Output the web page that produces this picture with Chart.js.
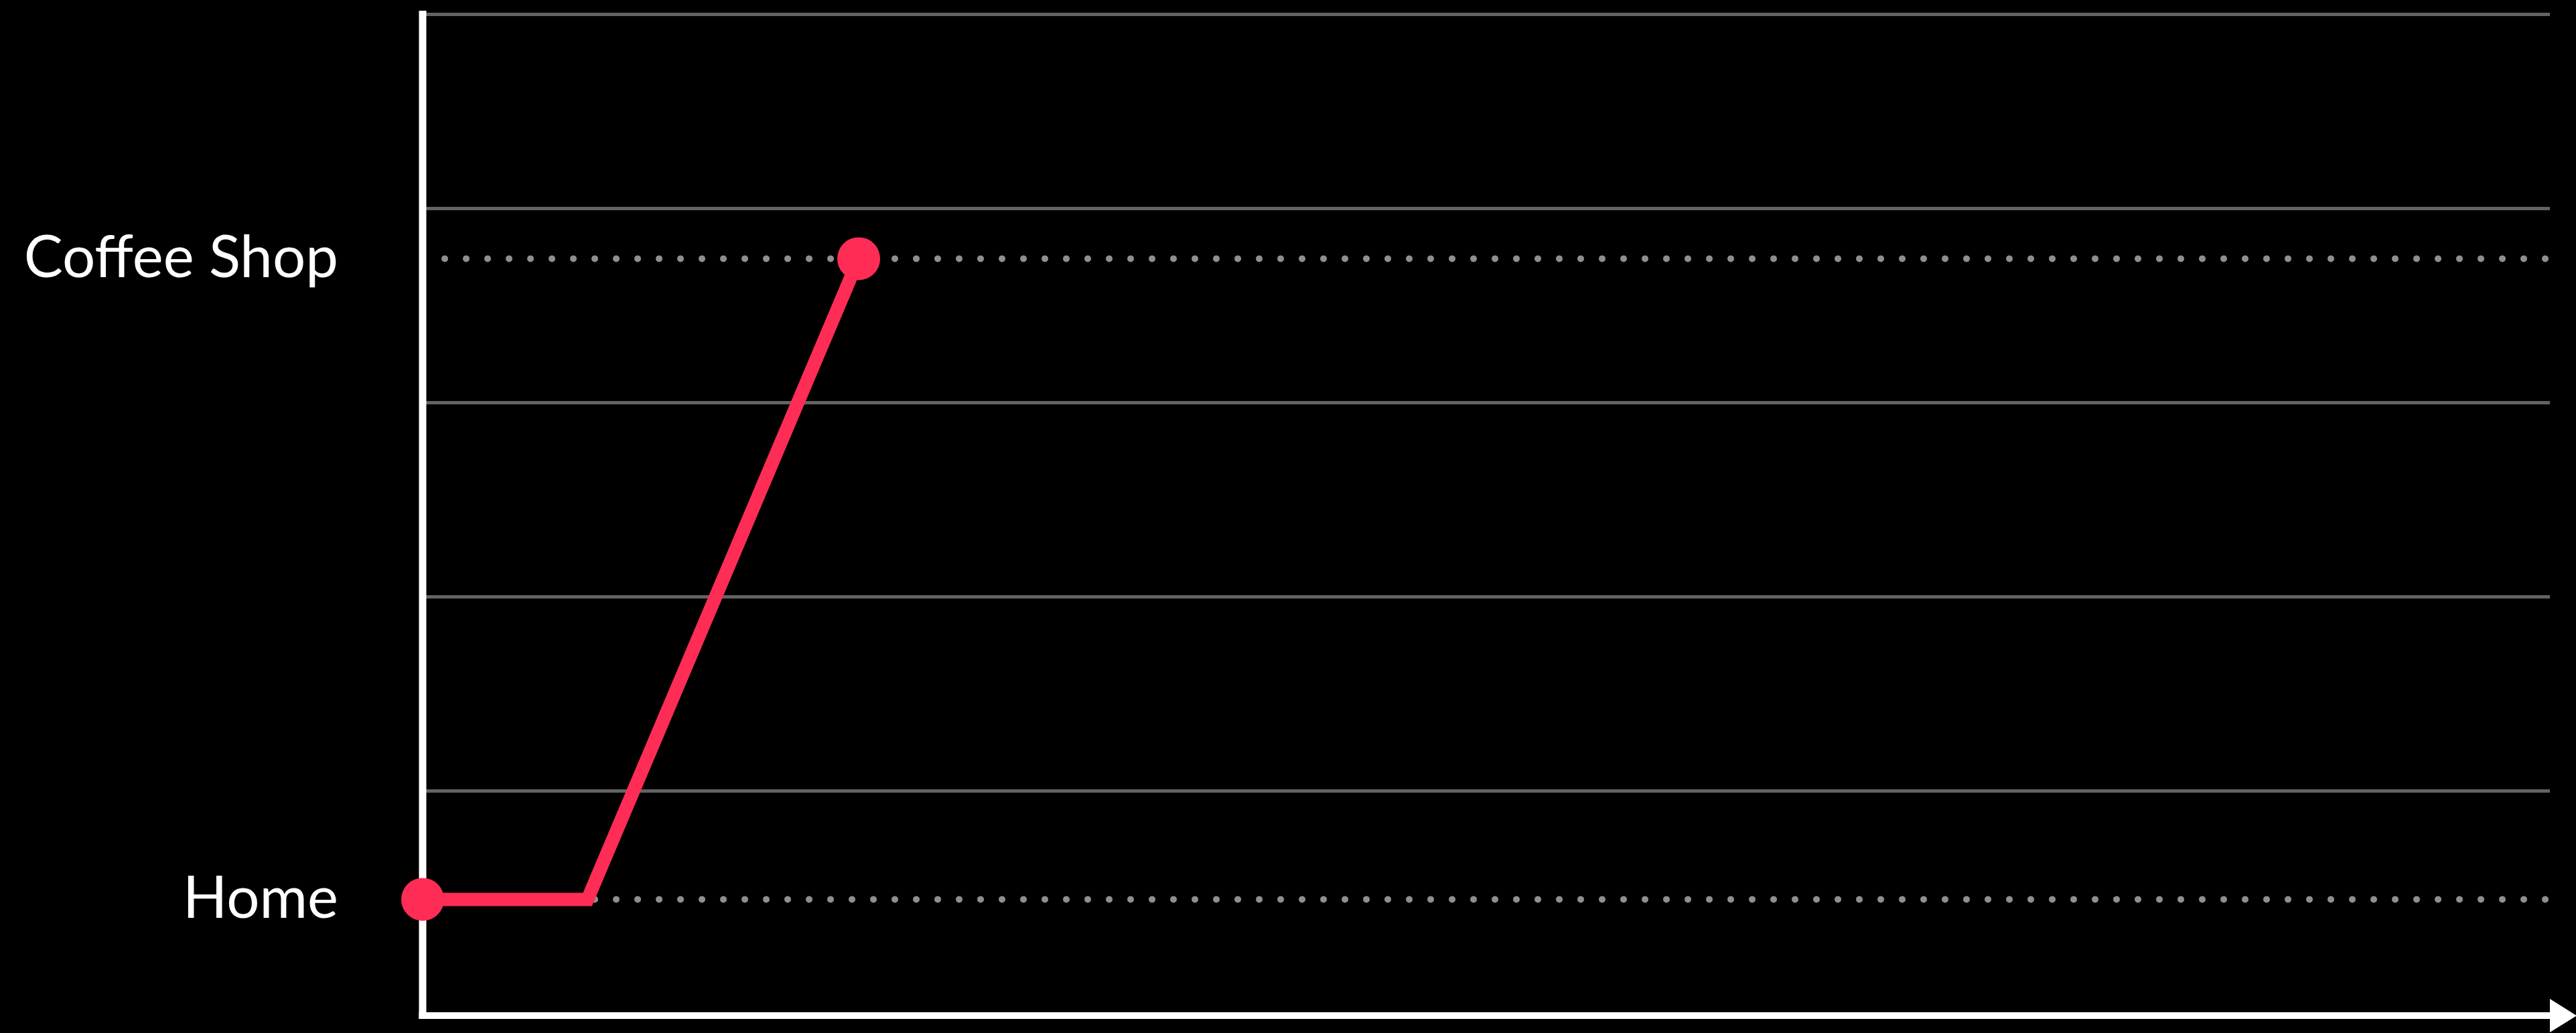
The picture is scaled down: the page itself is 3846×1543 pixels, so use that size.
<!DOCTYPE html>
<html>
<head>
<meta charset="utf-8">
<script src="https://cdn.jsdelivr.net/npm/chart.js@4"></script>
<style>
  html, body { margin: 0; padding: 0; background: #000; }
  #wrap { width: 3846px; height: 1543px; }
</style>
</head>
<body>
<div id="wrap"><canvas id="chart"></canvas></div>
<script>
// places on the vertical axis and the level each one sits at
const places = ['Home', 'Coffee Shop'];
const placeLevels = [0.44, 3.74];
// solid grey grid levels
const gridLevels = [1, 2, 3, 4, 5];
// the trip: time on x, stop on y
const tripTimes = [0, 7.75, 20.5];
const tripStops = ['Home', 'Home', 'Coffee Shop'];
// dotted guide lines run across the whole span
const guideTimes = [1.04, 100];

const levelOf = name => placeLevels[places.indexOf(name)];

// white L-shaped axes with an arrow, drawn under the data
const axesPlugin = {
    id: 'axes',
    beforeDatasetsDraw(chart) {
        const { ctx, chartArea: a } = chart;
        ctx.save();
        ctx.strokeStyle = '#fff';
        ctx.fillStyle = '#fff';
        ctx.lineWidth = 11;
        ctx.beginPath();
        ctx.moveTo(a.left, a.top - 5);
        ctx.lineTo(a.left, a.bottom + 5);
        ctx.stroke();
        ctx.lineWidth = 10;
        ctx.beginPath();
        ctx.moveTo(a.left - 5.5, a.bottom);
        ctx.lineTo(a.right + 1, a.bottom);
        ctx.stroke();
        ctx.beginPath();
        ctx.moveTo(a.right, a.bottom - 25);
        ctx.lineTo(a.right + 40, a.bottom);
        ctx.lineTo(a.right, a.bottom + 25);
        ctx.closePath();
        ctx.fill();
        ctx.restore();
    }
};

const datasets = [
    {
        data: tripTimes.map((t, i) => ({ x: t, y: levelOf(tripStops[i]) })),
        borderColor: '#ff2d55',
        backgroundColor: '#ff2d55',
        borderWidth: 20,
        borderJoinStyle: 'miter',
        pointRadius: tripTimes.map((t, i) => (i === 0 || i === tripTimes.length - 1) ? 32 : 0),
        pointBackgroundColor: '#ff2d55',
        pointBorderWidth: 0,
        tension: 0,
        clip: false,
        order: 0
    }
];

places.forEach(name => {
    datasets.push({
        data: guideTimes.map(t => ({ x: t, y: levelOf(name) })),
        borderColor: '#8e8e93',
        borderWidth: 10,
        borderDash: [0, 32],
        borderCapStyle: 'round',
        pointRadius: 0,
        clip: false,
        order: 1
    });
});

const allTicks = [...gridLevels, ...placeLevels].sort((a, b) => a - b);

new Chart(document.getElementById('chart'), {
    type: 'line',
    data: { datasets },
    plugins: [axesPlugin],
    options: {
        responsive: true,
        maintainAspectRatio: false,
        animation: false,
        events: [],
        layout: {
            autoPadding: false,
            padding: { top: 21, right: 39, bottom: 26, left: 0 }
        },
        plugins: {
            legend: { display: false },
            tooltip: { enabled: false }
        },
        scales: {
            x: {
                type: 'linear',
                min: 0,
                max: 100,
                display: false
            },
            y: {
                type: 'linear',
                min: -0.1586,
                max: 5,
                afterBuildTicks(scale) {
                    scale.ticks = allTicks.map(v => ({ value: v }));
                },
                afterFit(scale) {
                    scale.width = 631;
                    scale.paddingTop = 0;
                    scale.paddingBottom = 0;
                },
                border: { display: false },
                grid: {
                    drawTicks: false,
                    lineWidth: 5,
                    color: ctx => (ctx.tick && gridLevels.includes(ctx.tick.value)) ? '#636366' : 'rgba(0,0,0,0)'
                },
                ticks: {
                    autoSkip: false,
                    padding: 126,
                    color: '#fff',
                    font: { family: 'Lato', size: 87 },
                    callback: v => {
                        const i = placeLevels.indexOf(v);
                        return i >= 0 ? places[i] : '';
                    }
                }
            }
        }
    }
});
</script>
</body>
</html>
